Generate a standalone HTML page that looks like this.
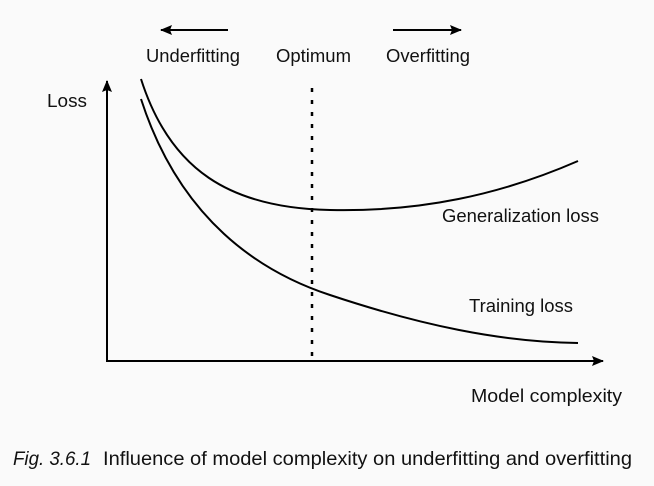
<!DOCTYPE html>
<html><head><meta charset="utf-8"><style>
html,body{margin:0;padding:0;background:#fafafa;}
svg{display:block;}
text{font-family:"Liberation Sans",sans-serif;fill:#111;}
</style></head><body>
<svg width="654" height="486" viewBox="0 0 654 486" xmlns="http://www.w3.org/2000/svg">
<rect width="654" height="486" fill="#fafafa"/>
<defs>
<marker id="ah" markerWidth="12" markerHeight="10" refX="11" refY="5" orient="auto" markerUnits="userSpaceOnUse">
<path d="M0,0 L12,5 L0,10 L2,5 Z" fill="#000"/>
</marker>
</defs>
<g stroke="#000" stroke-width="2" fill="none">
<line x1="107" y1="362" x2="107" y2="81" marker-end="url(#ah)"/>
<line x1="106" y1="361" x2="603" y2="361" marker-end="url(#ah)"/>
<line x1="228" y1="30" x2="161" y2="30" marker-end="url(#ah)"/>
<line x1="393" y1="30" x2="461" y2="30" marker-end="url(#ah)"/>
<path d="M141,79 C170,170 230,208 330,210 C420,212 500,195 578,161"/>
<path d="M141,99 C180,220 260,272 330,295 C420,325 500,342 578,343"/>
<line x1="312" y1="88" x2="312" y2="362" stroke-width="2.5" stroke-dasharray="4,8"/>
</g>
<text x="146" y="62" font-size="18.5" textLength="94" lengthAdjust="spacingAndGlyphs">Underfitting</text>
<text x="276" y="62" font-size="18.5" textLength="75" lengthAdjust="spacingAndGlyphs">Optimum</text>
<text x="386" y="62" font-size="18.5" textLength="84" lengthAdjust="spacingAndGlyphs">Overfitting</text>
<text x="47" y="107" font-size="18.5" textLength="40" lengthAdjust="spacingAndGlyphs">Loss</text>
<text x="442" y="222" font-size="18.5" textLength="157" lengthAdjust="spacingAndGlyphs">Generalization loss</text>
<text x="469" y="312" font-size="18.5" textLength="104" lengthAdjust="spacingAndGlyphs">Training loss</text>
<text x="471" y="402" font-size="18.5" textLength="151" lengthAdjust="spacingAndGlyphs">Model complexity</text>
<text x="13" y="465" font-size="19.5" fill="#222"><tspan font-style="italic" textLength="78" lengthAdjust="spacingAndGlyphs">Fig. 3.6.1</tspan><tspan x="103" textLength="529" lengthAdjust="spacingAndGlyphs">Influence of model complexity on underfitting and overfitting</tspan></text>
</svg>
</body></html>
